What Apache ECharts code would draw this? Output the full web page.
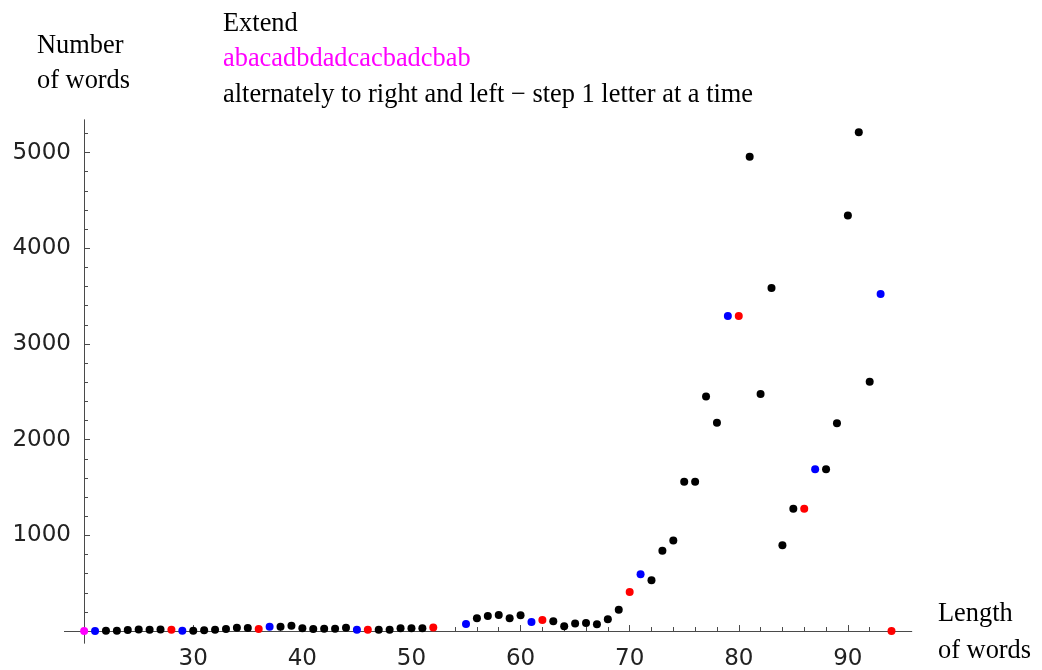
<!DOCTYPE html>
<html>
<head>
<meta charset="utf-8">
<script src="https://cdn.jsdelivr.net/npm/echarts@6/dist/echarts.min.js"></script>
<style>
html,body{margin:0;padding:0;background:#fff;}
#chart{width:1042px;height:670px;}
</style>
</head>
<body>
<div id="chart"></div>
<script>
// Length of words
const lengths = [20,21,22,23,24,25,26,27,28,29,30,31,32,33,34,35,36,37,38,39,40,41,42,43,44,45,46,47,48,49,50,51,52,
  55,56,57,58,59,60,61,62,63,64,65,66,67,68,69,70,71,72,73,74,75,76,77,78,79,80,81,82,83,84,85,86,87,88,89,90,91,92,93,94];
// Number of words
const counts = [0,0,2,3,10,17,14,17,14,3,3,7,14,21,35,31,21,45,45,56,28,21,24,24,35,14,14,14,14,28,28,28,38,
  73,133,157,167,133,164,94,115,101,49,80,84,70,122,223,408,593,530,840,945,1559,1559,2451,2176,3292,3292,4955,2476,3585,896,1279,1279,1691,1691,2172,4341,5212,2605,3522,0];
// Point class (colour group)
const kinds = ['p','b','k','k','k','k','k','k','r','b','k','k','k','k','k','k','r','b','k','k','k','k','k','k','k','b','r','k','k','k','k','k','r',
  'b','k','k','k','k','k','b','r','k','k','k','k','k','k','k','r','b','k','k','k','k','k','k','k','b','r','k','k','k','k','k','r','b','k','k','k','k','k','b','r'];

const xLabelValues = [30,40,50,60,70,80,90];
const xMinorTicks = [22,24,26,28,30,32,34,36,38,40,42,44,46,48,50,52,54,56,58,60,62,64,66,68,70,72,74,76,78,80,82,84,86,88,90,92,94];
const yLabelValues = [1000,2000,3000,4000,5000];
const yMinorTicks = [200,400,600,800,1000,1200,1400,1600,1800,2000,2200,2400,2600,2800,3000,3200,3400,3600,3800,4000,4200,4400,4600,4800,5000,5200];

const colorOf = {k:'#000000', b:'#0000ff', r:'#ff0000', p:'#ff00ff'};
function pts(kind){
  const out = [];
  for (let i=0;i<lengths.length;i++) if (kinds[i]===kind) out.push([lengths[i], counts[i]]);
  return out;
}

const XMIN = 18.2, XMAX = 95.85, YMIN = -125, YMAX = 5340;
const axisColor = '#4a4a4a';
const tickFont = {fontFamily:'DejaVu Sans', fontSize:23, color:'#222', formatter:(v)=>String(v)};
const serif = 'Liberation Serif';
const ts = (c, lh) => ({fontFamily:serif, fontSize:26.4, fontWeight:'normal', color:c, lineHeight:lh});

const chart = echarts.init(document.getElementById('chart'), null, {renderer:'canvas'});
chart.setOption({
  animation:false,
  backgroundColor:'#fff',
  title:[
    {text:'Extend', left:223, top:11.5, padding:0, textStyle:ts('#000',26)},
    {text:'abacadbdadcacbadcbab', left:223, top:46, padding:0, textStyle:ts('#ff00ff',26)},
    {text:'alternately to right and left \u2212 step 1 letter at a time', left:223, top:82, padding:0, textStyle:ts('#000',26)},
    {text:'Number\nof words', left:37, top:28.5, padding:0, textStyle:ts('#000',35)},
    {text:'Length\nof words', left:938, top:596, padding:0, textStyle:ts('#000',37)}
  ],
  grid:{left:64.5, right:1042-911.7, top:120, bottom:27, containLabel:false, outerBoundsMode:'none'},
  xAxis:[
    {type:'value', min:XMIN, max:XMAX, position:'bottom', offset:-11.96,
     axisLine:{onZero:false, lineStyle:{color:axisColor, width:1}},
     axisTick:{inside:true, length:6, customValues:xLabelValues, lineStyle:{color:axisColor}},
     axisLabel:{customValues:xLabelValues, margin:16, ...tickFont},
     splitLine:{show:false}},
    {type:'value', min:XMIN, max:XMAX, position:'bottom', offset:-11.96,
     axisLine:{onZero:false, lineStyle:{color:axisColor, width:1}},
     axisTick:{inside:true, length:4, customValues:xMinorTicks, lineStyle:{color:axisColor}},
     axisLabel:{show:false},
     splitLine:{show:false}}
  ],
  yAxis:[
    {type:'value', min:YMIN, max:YMAX, position:'left', offset:-19.5,
     axisLine:{show:true, onZero:false, lineStyle:{color:axisColor, width:1}},
     axisTick:{show:true, inside:true, length:6, customValues:yLabelValues, lineStyle:{color:axisColor}},
     axisLabel:{customValues:yLabelValues, margin:13, ...tickFont},
     splitLine:{show:false}},
    {type:'value', min:YMIN, max:YMAX, position:'left', offset:-19.5,
     axisLine:{show:true, onZero:false, lineStyle:{color:axisColor, width:1}},
     axisTick:{show:true, inside:true, length:4, customValues:yMinorTicks, lineStyle:{color:axisColor}},
     axisLabel:{show:false},
     splitLine:{show:false}}
  ],
  series:['k','b','r','p'].map(k => ({
    type:'scatter', xAxisIndex:0, yAxisIndex:0,
    data:pts(k), symbol:'circle', symbolSize:8,
    itemStyle:{color:colorOf[k], opacity:1},
    emphasis:{disabled:true}, silent:true, z:5
  }))
});
</script>
</body>
</html>
